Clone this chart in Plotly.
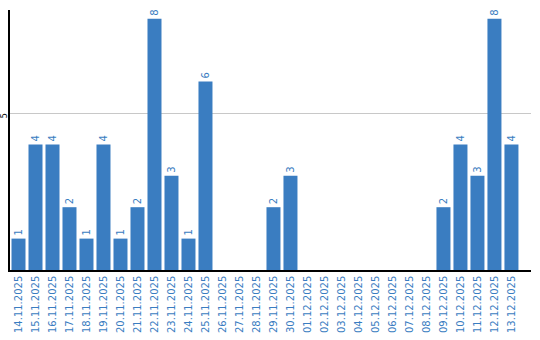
import plotly.graph_objects as go

dates = ["14.11.2025","15.11.2025","16.11.2025","17.11.2025","18.11.2025","19.11.2025",
         "20.11.2025","21.11.2025","22.11.2025","23.11.2025","24.11.2025","25.11.2025",
         "26.11.2025","27.11.2025","28.11.2025","29.11.2025","30.11.2025","01.12.2025",
         "02.12.2025","03.12.2025","04.12.2025","05.12.2025","06.12.2025","07.12.2025",
         "08.12.2025","09.12.2025","10.12.2025","11.12.2025","12.12.2025","13.12.2025"]
values = [1,4,4,2,1,4,1,2,8,3,1,6,0,0,0,2,3,0,0,0,0,0,0,0,0,2,4,3,8,4]

color = "#3a7dc1"
texts = [str(v) if v > 0 else "" for v in values]

fig = go.Figure(go.Bar(
    x=list(range(len(dates))), y=values, marker_color=color, marker_line_width=0,
    text=texts, textposition="outside", textangle=-90, cliponaxis=False,
    textfont=dict(family="DejaVu Sans", size=10, color=color),
    width=14/17,
))
fig.update_layout(
    width=540, height=340, margin=dict(l=10, r=9, t=10, b=70),
    plot_bgcolor="white", paper_bgcolor="white", showlegend=False,
    bargap=3/17,
)
fig.update_xaxes(
    tickmode="array", tickvals=list(range(len(dates))), ticktext=dates, automargin=False,
    tickangle=-90, range=[-0.5, 30.15], showline=True, linecolor="black", linewidth=1.5,
    showgrid=False, ticks="", tickfont=dict(family="DejaVu Sans", size=10, color=color),
)
fig.update_yaxes(
    range=[0, 8.28], tickvals=[5], ticktext=["5"], tickangle=-90, automargin=False,
    ticklabelstandoff=-2, ticklabelshift=4,
    showline=True, linecolor="black", linewidth=1.5, showgrid=True, gridcolor="#c8c8c8",
    zeroline=False, ticks="", tickfont=dict(family="DejaVu Sans", size=8, color="black"),
)
fig.write_html("out.html")
